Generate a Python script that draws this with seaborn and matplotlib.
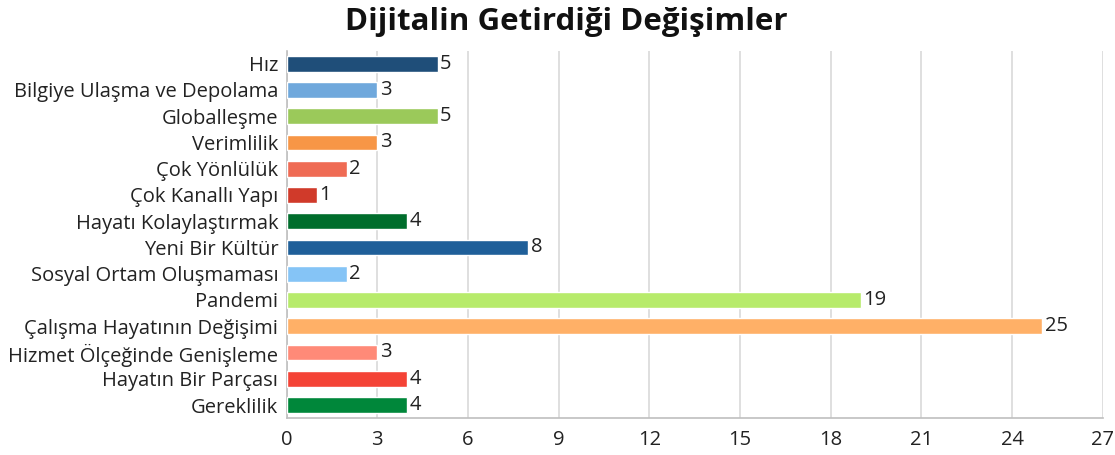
import matplotlib
matplotlib.use("Agg")
import matplotlib.pyplot as plt
import seaborn as sns
import pandas as pd

# data
categories = [
    "Hız", "Bilgiye Ulaşma ve Depolama", "Globalleşme", "Verimlilik",
    "Çok Yönlülük", "Çok Kanallı Yapı", "Hayatı Kolaylaştırmak",
    "Yeni Bir Kültür", "Sosyal Ortam Oluşmaması", "Pandemi",
    "Çalışma Hayatının Değişimi", "Hizmet Ölçeğinde Genişleme",
    "Hayatın Bir Parçası", "Gereklilik",
]
counts = [5, 3, 5, 3, 2, 1, 4, 8, 2, 19, 25, 3, 4, 4]
colors = [
    "#1f4e79", "#6fa8dc", "#9bc95a", "#f79646", "#ef6b54", "#d03a2a",
    "#006d2c", "#1f5f99", "#85c4f6", "#b7eb6b", "#ffb067", "#ff8a78",
    "#f44336", "#00873a",
]
xticks = list(range(0, 28, 3))

df = pd.DataFrame({"Kategori": categories, "Sayı": counts})

sns.set_style("white")
plt.rcParams["font.family"] = ["Open Sans", "DejaVu Sans"]

fig = plt.figure(figsize=(11.15, 4.55), dpi=100)
ax = fig.add_axes([0.257, 0.081, 0.732, 0.808])

sns.barplot(data=df, x="Sayı", y="Kategori", hue="Kategori",
            palette=colors, saturation=1, legend=False, width=0.6,
            ax=ax, zorder=3)

for i, v in enumerate(counts):
    ax.text(v + 0.08, i, str(v), va="center", ha="left", fontsize=14.5,
            color="#222222")

ax.set_xlim(0, 27)
ax.set_xticks(xticks)
ax.set_ylim(13.5, -0.5)
ax.grid(axis="x", color="#d9d9d9", linewidth=1.2, zorder=0)
ax.set_xlabel("")
ax.set_ylabel("")
for s in ["top", "right"]:
    ax.spines[s].set_visible(False)
for s in ["left", "bottom"]:
    ax.spines[s].set_color("#bfbfbf")
    ax.spines[s].set_linewidth(1.2)
ax.tick_params(axis="y", length=0, labelsize=14.5, labelcolor="#222222", pad=6)
ax.tick_params(axis="x", length=5, color="#bfbfbf", labelsize=14.5,
               labelcolor="#222222")

fig.suptitle("Dijitalin Getirdiği Değişimler", x=0.508, y=0.985,
             fontsize=22.5, fontweight="bold", color="#111111")

fig.savefig("out.png", dpi=100)
